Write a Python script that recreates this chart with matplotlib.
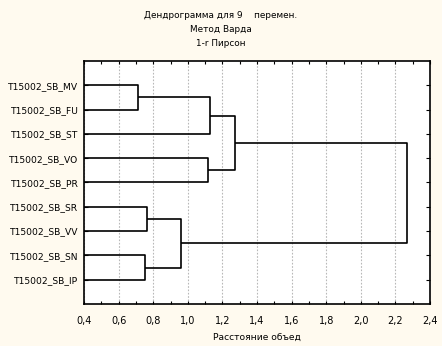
import matplotlib
matplotlib.use("Agg")
import matplotlib.pyplot as plt
from matplotlib.ticker import MultipleLocator, FuncFormatter

# leaves, top to bottom
leaves = ["T15002_SB_MV", "T15002_SB_FU", "T15002_SB_ST", "T15002_SB_VO",
          "T15002_SB_PR", "T15002_SB_SR", "T15002_SB_VV", "T15002_SB_SN",
          "T15002_SB_IP"]

# merges: (left node, right node, linkage distance); new nodes numbered 9, 10, ...
merges = [
    (0, 1, 0.714),
    (9, 2, 1.131),
    (3, 4, 1.119),
    (10, 11, 1.275),
    (5, 6, 0.766),
    (7, 8, 0.755),
    (13, 14, 0.963),
    (12, 15, 2.265),
]

bg = "#FFFAEF"
plt.rcParams["font.family"] = ["DejaVu Sans"]

fig = plt.figure(figsize=(4.42, 3.46), dpi=100, facecolor=bg)
ax = fig.add_axes([0.190, 0.1214, 0.783, 0.7023])
ax.set_facecolor("white")

# position (y) and height (x) of every node
pos = {i: i + 1 for i in range(len(leaves))}
height = {i: 0.0 for i in range(len(leaves))}
for k, (a, b, d) in enumerate(merges):
    n = len(leaves) + k
    ax.plot([height[a], d, d, height[b]], [pos[a], pos[a], pos[b], pos[b]],
            color="black", lw=1.2, solid_capstyle="butt", clip_on=True, zorder=3)
    pos[n] = (pos[a] + pos[b]) / 2
    height[n] = d

ax.set_xlim(0.4, 2.4)
ax.set_ylim(10, 0)
ax.set_yticks(range(1, len(leaves) + 1))
ax.set_yticklabels(leaves, fontsize=6.6)
ax.xaxis.set_major_locator(MultipleLocator(0.2))
ax.xaxis.set_minor_locator(MultipleLocator(0.1))
ax.xaxis.set_major_formatter(FuncFormatter(lambda v, p: f"{v:.1f}".replace(".", ",")))
ax.tick_params(axis="x", which="both", direction="in", top=True, bottom=True,
               length=2.5, width=0.8, labelsize=7, pad=8.5)
ax.tick_params(axis="y", direction="in", left=True, right=True, length=3,
               width=0.8, pad=4)
ax.grid(axis="x", which="major", color="#b8b8b8", linestyle=(0, (1.5, 1.5)),
        lw=0.8, zorder=1)
for s in ax.spines.values():
    s.set_linewidth(1.2)

ax.set_xlabel("Расстояние объед", fontsize=6.6, labelpad=5)

fig.text(0.5, 1 - 15 / 346, "Дендрограмма для 9    перемен.", ha="center", va="center", fontsize=6.4)
fig.text(0.5, 1 - 29 / 346, "Метод Варда", ha="center", va="center", fontsize=6.4)
fig.text(0.5, 1 - 43 / 346, "1-r Пирсон", ha="center", va="center", fontsize=6.4)

fig.savefig("out.png", dpi=100, facecolor=bg)
